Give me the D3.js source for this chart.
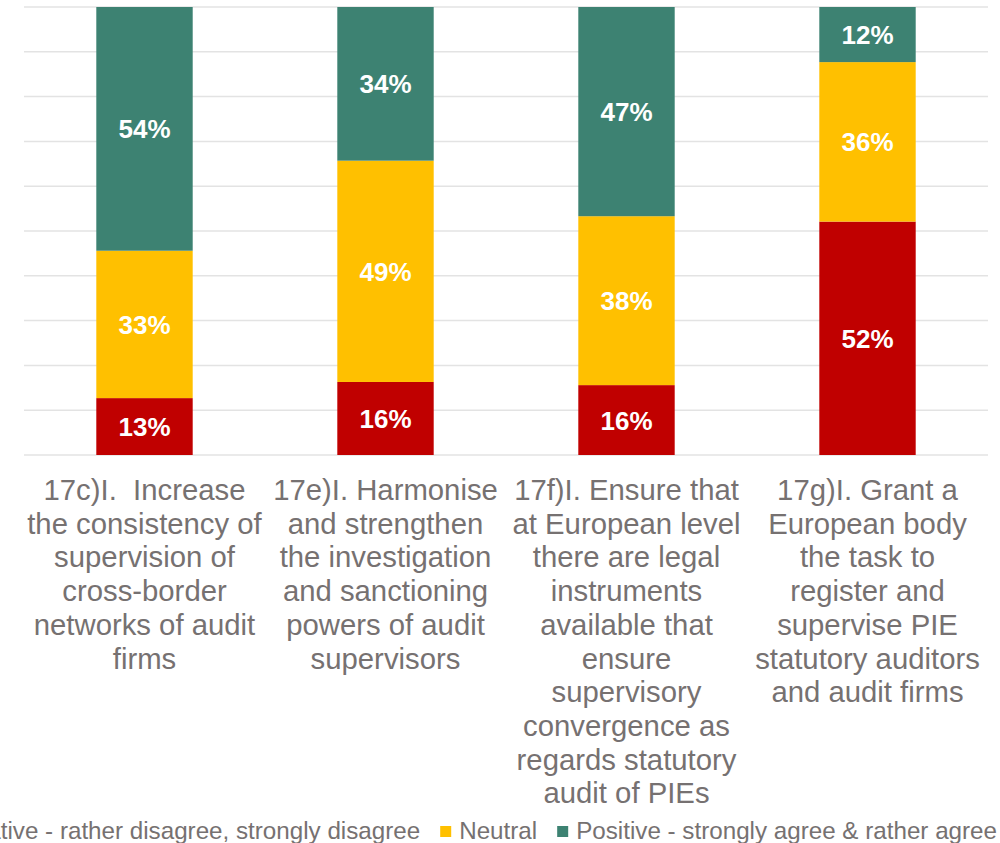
<!DOCTYPE html>
<html>
<head>
<meta charset="utf-8">
<script src="https://cdn.jsdelivr.net/npm/d3@7"></script>
<style>
  html, body { margin: 0; padding: 0; background: #fff; }
  svg { display: block; font-family: Arial, "Liberation Sans", sans-serif; }
</style>
</head>
<body>
<svg id="chart" width="1000" height="843"></svg>
<script>
// ---- data ----
const categories = [
  "17c)I.  Increase\nthe consistency of\nsupervision of\ncross-border\nnetworks of audit\nfirms",
  "17e)I. Harmonise\nand strengthen\nthe investigation\nand sanctioning\npowers of audit\nsupervisors",
  "17f)I. Ensure that\nat European level\nthere are legal\ninstruments\navailable that\nensure\nsupervisory\nconvergence as\nregards statutory\naudit of PIEs",
  "17g)I. Grant a\nEuropean body\nthe task to\nregister and\nsupervise PIE\nstatutory auditors\nand audit firms"
];
const seriesNames = [
  "Negative - rather disagree, strongly disagree",
  "Neutral",
  "Positive - strongly agree & rather agree"
];
const negative = [12.7, 16.3, 15.6, 52.1];
const neutral  = [32.9, 49.4, 37.7, 35.6];
const positive = [54.4, 34.3, 46.7, 12.3];
const yTicks = [0, 10, 20, 30, 40, 50, 60, 70, 80, 90, 100];
const colors = ["#C00000", "#FFC000", "#3D8272"];

(function () {
// ---- layout ----
const svg = d3.select("#chart");
const pLeft = 24, pRight = 988, pTop = 7, pBottom = 455;

const x = d3.scaleBand().domain(d3.range(categories.length))
  .range([pLeft, pRight]).paddingInner(0.6).paddingOuter(0.3);
const y = d3.scaleLinear().domain([0, 100]).range([pBottom, pTop]);

const rows = categories.map((c, i) => ({ i, s0: negative[i], s1: neutral[i], s2: positive[i] }));
const stacked = d3.stack().keys(["s0", "s1", "s2"])(rows);

// gridlines
svg.append("g").selectAll("line").data(yTicks).join("line")
  .attr("x1", pLeft).attr("x2", pRight)
  .attr("y1", d => y(d)).attr("y2", d => y(d))
  .attr("stroke", "#e3e3e3").attr("stroke-width", 1.5);

// bars
const layers = svg.append("g").selectAll("g").data(stacked).join("g")
  .attr("fill", (d, k) => colors[k]);
layers.selectAll("rect").data(d => d).join("rect")
  .attr("x", d => x(d.data.i))
  .attr("width", x.bandwidth())
  .attr("y", d => y(d[1]))
  .attr("height", d => y(d[0]) - y(d[1]));

// value labels
const lbl = svg.append("g").selectAll("g").data(stacked).join("g");
lbl.selectAll("text").data(d => d.map(v => ({ v, key: d.key }))).join("text")
  .attr("x", d => x(d.v.data.i) + x.bandwidth() / 2)
  .attr("y", d => (y(d.v[0]) + y(d.v[1])) / 2)
  .attr("dy", "0.37em")
  .attr("text-anchor", "middle")
  .attr("fill", "#fff")
  .attr("font-weight", "bold")
  .attr("font-size", 26)
  .text(d => Math.round(d.v[1] - d.v[0]) + "%");

// category labels
const catG = svg.append("g");
categories.forEach((c, i) => {
  const t = catG.append("text")
    .attr("text-anchor", "middle")
    .attr("fill", "#767171")
    .attr("font-size", 29.3)
    .style("white-space", "pre");
  c.split("\n").forEach((line, j) => {
    t.append("tspan")
      .attr("x", x(i) + x.bandwidth() / 2)
      .attr("y", 500 + j * 33.7)
      .text(line);
  });
});

// legend (right-aligned, overflowing on the left like the reference)
const legend = svg.append("g");
const items = seriesNames.map((name, k) => {
  const t = legend.append("text").attr("y", 838.5)
    .attr("fill", "#767171").attr("font-size", 24.2).text(name);
  const r = legend.append("rect").attr("y", 826).attr("width", 11).attr("height", 11)
    .attr("fill", colors[k]);
  return { t, r, w: t.node().getComputedTextLength() };
});
let lx = 997;
for (let k = items.length - 1; k >= 0; k--) {
  const it = items[k];
  lx -= it.w;
  it.t.attr("x", lx);
  it.r.attr("x", lx - 19);
  lx -= 19 + 20;
}
})();
</script>
</body>
</html>
